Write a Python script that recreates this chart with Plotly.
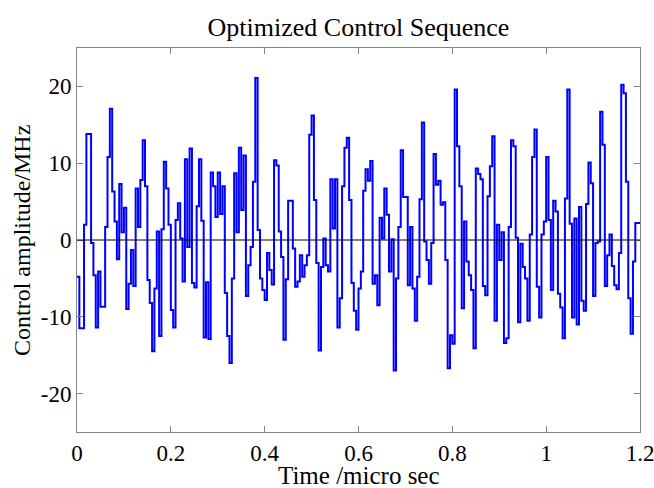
import plotly.graph_objects as go

# Piecewise-constant control amplitude (MHz), one value per 5 ns segment
amplitude_mhz = [
    -4.8, -11.5, -11.5, 2.0, 13.8, 13.8, -0.4, -4.6, -11.4, -4.1,
    -8.7, -8.7, 1.7, 10.8, 17.1, 6.3, 2.4, -2.5, 7.3, 1.0,
    4.2, -9.0, -5.7, -1.3, -6.0, 6.7, 1.7, 7.8, 13.0, 7.0,
    -5.2, -8.2, -14.5, -6.3, 1.1, -12.5, 1.4, 10.2, 6.7, 2.0,
    -9.1, -11.4, 2.6, 4.8, 0.2, -5.4, 10.5, -0.9, 11.9, -5.6,
    -6.2, 4.4, 10.5, 2.5, -12.7, -5.5, -12.9, 8.8, 7.0, 3.0,
    8.8, 3.4, 7.0, -6.9, -12.5, -16.0, -5.0, 8.7, 1.0, 12.0,
    3.9, 11.0, -7.3, -3.3, -0.9, 7.6, 21.1, 1.3, -5.0, -6.5,
    -7.8, -1.7, -3.9, -5.8, 10.4, 9.7, 1.1, -2.2, -13.0, -5.1,
    5.1, 5.1, -1.1, -6.1, -5.4, -2.0, -4.8, -3.3, -2.0, 13.7,
    16.2, 5.2, -3.0, -14.4, -3.5, 0.2, -3.3, -4.1, 7.9, 1.5,
    7.9, -11.4, -7.6, 7.0, 12.0, 13.3, 5.2, -5.6, -9.2, -11.7,
    -6.3, -4.1, 6.4, 9.2, 7.7, 10.3, -5.7, -4.6, -8.5, 2.9,
    0.2, 6.7, 3.3, -4.1, 0.1, -17.0, -5.0, 1.7, 11.7, 5.6,
    5.6, -5.9, 1.7, -6.3, -10.5, -4.8, 5.3, 15.3, -0.2, -2.6,
    -5.7, -0.4, 11.2, 7.2, 7.7, 4.6, 4.9, -2.6, -16.7, -12.4,
    -13.5, 19.6, 12.2, 7.0, -8.9, 2.4, -2.8, -4.6, -6.5, -14.1,
    9.3, 8.6, 7.9, -6.0, -7.2, 5.7, 9.6, 13.5, -10.5, 2.0,
    -2.6, 1.0, -13.4, -12.8, 1.7, 13.0, 12.2, 0.3, -10.7, -0.5,
    -3.5, -5.0, -10.5, 0.7, 10.8, 14.4, -6.1, -10.1, 0.7, 2.4,
    10.8, 2.6, -6.5, 5.1, 3.7, -7.0, -8.8, -12.8, 5.4, 19.6,
    2.1, -10.1, 2.8, -11.0, 4.3, -7.9, -9.2, 4.7, 10.1, 7.4,
    -7.3, -0.4, -0.2, 16.7, 12.4, -6.0, -2.0, 0.7, -3.4, -5.9,
    -6.4, -1.7, 20.2, 19.1, 7.6, -7.6, -12.2, -2.8, 2.2, 2.2,
]
total_time_us = 1.2
x_ticks = [0, 0.2, 0.4, 0.6, 0.8, 1.0, 1.2]
x_tick_labels = ["0", "0.2", "0.4", "0.6", "0.8", "1", "1.2"]
y_ticks = [-20, -10, 0, 10, 20]
y_tick_labels = ["-20", "-10", "0", "10", "20"]

n = len(amplitude_mhz)
dt = total_time_us / n
t = [k * dt for k in range(n)] + [total_time_us]
y = amplitude_mhz + [amplitude_mhz[-1]]

FONT = "Liberation Serif"
AXC = "#858585"

fig = go.Figure()
fig.add_trace(go.Scatter(x=t, y=y, mode="lines",
                         line=dict(shape="hv", color="#0000FF", width=2),
                         showlegend=False, hoverinfo="skip"))
fig.add_shape(type="line", xref="x", yref="y", x0=0, x1=total_time_us, y0=0, y1=0,
              line=dict(color="#000000", width=1), layer="above")

fig.update_layout(
    width=654, height=488,
    margin=dict(l=77, r=14, t=48, b=56),
    paper_bgcolor="white", plot_bgcolor="white",
    font=dict(family=FONT, size=23, color="black"),
    title=dict(text="Optimized Control Sequence", x=0.5, xref="paper",
               y=1 - 27 / 488, yref="container", yanchor="middle", xanchor="center",
               font=dict(family=FONT, size=26, color="black")),
    annotations=[
        dict(text="Time /micro sec", xref="paper", yref="paper", x=0.5, y=-0.113,
             xanchor="center", yanchor="middle", showarrow=False,
             font=dict(family=FONT, size=25, color="black")),
        dict(text="Control amplitude/MHz", xref="paper", yref="paper",
             x=-0.0977, y=0.5, xanchor="center", yanchor="middle", textangle=-90,
             showarrow=False, font=dict(family=FONT, size=24, color="black")),
    ],
)
fig.update_xaxes(range=[0, total_time_us], tickvals=x_ticks, ticktext=x_tick_labels,
                 ticks="inside", ticklen=6, tickcolor=AXC, showline=True, linecolor=AXC,
                 linewidth=1, mirror="ticks", showgrid=False, zeroline=False,
                 automargin=False, ticklabelstandoff=0, ticklabeloverflow="allow",
                 tickfont=dict(family=FONT, size=23, color="black"))
fig.update_yaxes(range=[-25, 25], tickvals=y_ticks, ticktext=y_tick_labels,
                 ticks="inside", ticklen=6, tickcolor=AXC, showline=True, linecolor=AXC,
                 linewidth=1, mirror="ticks", showgrid=False, zeroline=False,
                 automargin=False, ticklabelstandoff=0, ticklabeloverflow="allow",
                 tickfont=dict(family=FONT, size=23, color="black"))

fig.write_html("out.html")
